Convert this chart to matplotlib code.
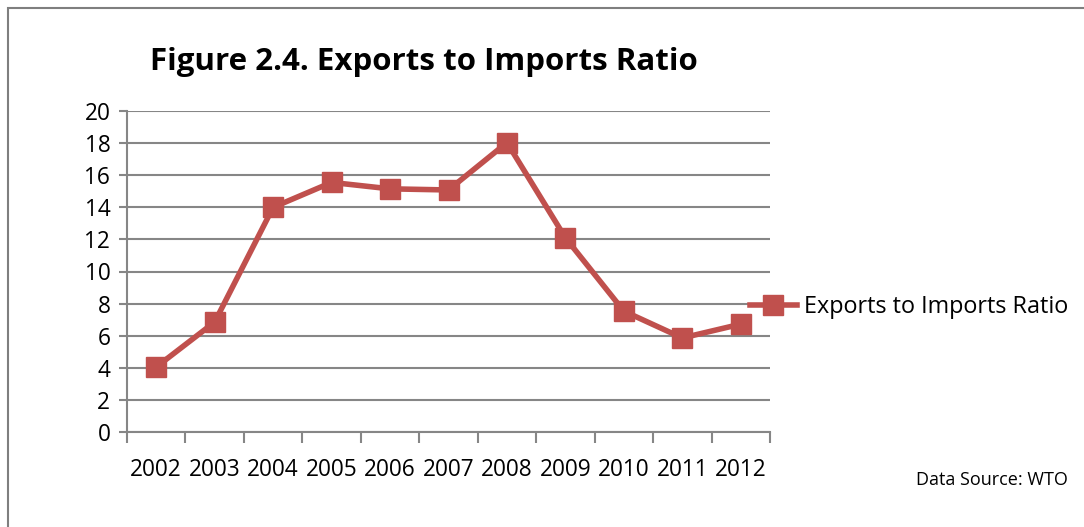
import matplotlib
matplotlib.use("Agg")
import matplotlib.pyplot as plt
from matplotlib.patches import Rectangle

plt.rcParams['font.family'] = ['Open Sans', 'DejaVu Sans']

years = ['2002', '2003', '2004', '2005', '2006', '2007', '2008', '2009', '2010', '2011', '2012']
ratio = [4.05, 6.85, 14.0, 15.55, 15.15, 15.08, 18.03, 12.1, 7.53, 5.86, 6.72]
series_name = 'Exports to Imports Ratio'
red = '#C0504D'
grid_gray = '#868686'

W, H = 1084, 527
fig = plt.figure(figsize=(W / 100, H / 100), dpi=100)

# outer frame (left and top edges visible in the original)
fig.patches.append(Rectangle((8 / W, -0.1), 1.2, 1 - 8 / H + 0.1, transform=fig.transFigure,
                             fill=False, edgecolor='#7f7f7f', linewidth=1.5))

ax = fig.add_axes([127 / W, 1 - 432 / H, (770 - 127) / W, (432 - 111) / H])
x = list(range(len(years)))
ax.plot(x, ratio, color=red, linewidth=4, marker='s', markersize=14,
        markeredgecolor=red, label=series_name, zorder=3, clip_on=False)

ax.set_xlim(-0.5, len(years) - 0.5)
ax.set_ylim(0, 20)
ax.set_yticks(range(0, 21, 2))
ax.set_xticks(x)
ax.set_xticklabels(years)
ax.set_xticks([i - 0.5 for i in range(len(years) + 1)], minor=True)
ax.tick_params(axis='x', which='major', length=0, labelsize=16.3, pad=19)
ax.tick_params(axis='x', which='minor', length=8, width=1.5, color=grid_gray, direction='out')
ax.tick_params(axis='y', length=6, width=1.5, color=grid_gray, labelsize=16.3, pad=6)
ax.yaxis.grid(True, color=grid_gray, linewidth=1.5)
ax.set_axisbelow(True)
for s in ['top', 'right']:
    ax.spines[s].set_visible(False)
for s in ['left', 'bottom']:
    ax.spines[s].set_color(grid_gray)
    ax.spines[s].set_linewidth(1.5)

fig.text(424 / W, 1 - 62 / H, 'Figure 2.4. Exports to Imports Ratio', ha='center', va='center',
         fontsize=22.5, fontweight='bold')

ax.legend(loc='center left', bbox_to_anchor=(729 / W, 1 - 307 / H), bbox_transform=fig.transFigure,
          frameon=False, fontsize=16.8, handlelength=2.0, handletextpad=0.3, markerscale=1.0)

fig.text(1068 / W, 1 - 480 / H, 'Data Source: WTO', ha='right', va='center', fontsize=13)

fig.savefig('out.png', dpi=100)
